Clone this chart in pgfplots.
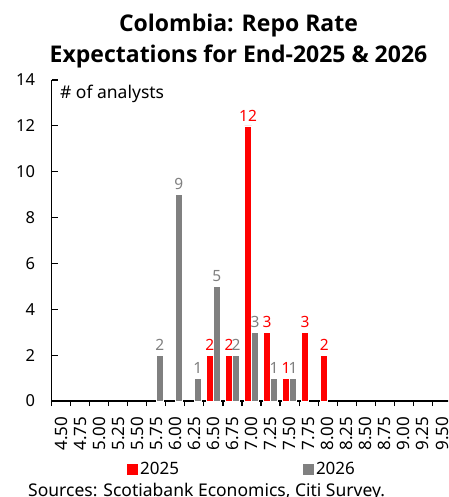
\documentclass[border=0pt]{standalone}
\usepackage{pgfplots}
\pgfplotsset{compat=1.18}
\usepackage{fontspec}
\setmainfont{Noto Sans}
\newfontfamily\titlefont{Open Sans}
\definecolor{barred}{HTML}{FF0000}
\definecolor{bargray}{HTML}{808080}
\begin{document}
\begin{tikzpicture}[x=1pt,y=1pt]
\useasboundingbox (0,0) rectangle (448,497);
\clip (0,0) rectangle (448,497);
\begin{axis}[
  scale only axis,
  width=400pt, height=321pt,
  at={(51.5pt,96pt)}, anchor=south west,
  xmin=-0.5, xmax=20.5, ymin=0, ymax=14,
  axis x line*=bottom, axis y line*=left,
  axis line style={line width=1.2pt, black},
  ybar=0pt, bar width=7pt,
  xtick={0,...,20},
  xticklabels={4.50,4.75,5.00,5.25,5.50,5.75,6.00,6.25,6.50,6.75,7.00,7.25,7.50,7.75,8.00,8.25,8.50,8.75,9.00,9.25,9.50},
  major x tick style={draw=none},
  minor xtick={-0.5,0.5,...,20.5},
  minor x tick style={line width=1.2pt, black},
  minor tick length=5pt,
  xtick align=outside,
  xticklabel style={rotate=90, anchor=east, font=\fontsize{17}{18}\selectfont, inner xsep=10pt, inner ysep=1pt, xshift=0.5pt},
  ytick={0,2,...,14},
  ytick align=inside,
  major y tick style={line width=1.2pt, black},
  major tick length=6pt,
  yticklabel style={font=\fontsize{16.5}{18}\selectfont, xshift=-13pt},
  /pgf/number format/assume math mode=true,
  nodes near coords,
  every node near coord/.append style={font=\fontsize{15.5}{17}\selectfont, yshift=1pt},
  legend style={at={(190.5pt,-68pt)}, anchor=center, draw=none, fill=none,
    legend columns=2, font=\fontsize{17}{18}\selectfont,
    /tikz/every even column/.append style={column sep=122pt}},
  legend image code/.code={\fill[#1,draw=none] (0pt,-5.5pt) rectangle (11pt,5.5pt);},
  clip=false,
]
\addplot[fill=barred, draw=white, line width=0.4pt,
  every node near coord/.append style={text=barred}] coordinates {
  (8,2) (9,2) (10,12) (11,3) (12,1) (13,3) (14,2)
};
\addlegendentry{2025}
\addplot[fill=bargray, draw=white, line width=0.4pt,
  every node near coord/.append style={text=bargray}] coordinates {
  (5,2) (6,9) (7,1) (8,5) (9,2) (10,3) (11,1) (12,1)
};
\addlegendentry{2026}
\node[anchor=base west, font=\fontsize{17.5}{18}\selectfont, inner sep=0pt] at (rel axis cs:0.021,0.941) {\# of analysts};
\end{axis}
\node[font=\titlefont\bfseries\fontsize{23}{31}\selectfont, anchor=base] at (238.5,465.5) {Colombia: Repo Rate};
\node[font=\titlefont\bfseries\fontsize{23}{31}\selectfont, anchor=base] at (238.5,434.5) {Expectations for End-2025 \& 2026};
\node[anchor=base west, font=\fontsize{17.5}{18}\selectfont, inner sep=0pt] at (28,0) {Sources: Scotiabank Economics, Citi Survey.};
\end{tikzpicture}
\end{document}
